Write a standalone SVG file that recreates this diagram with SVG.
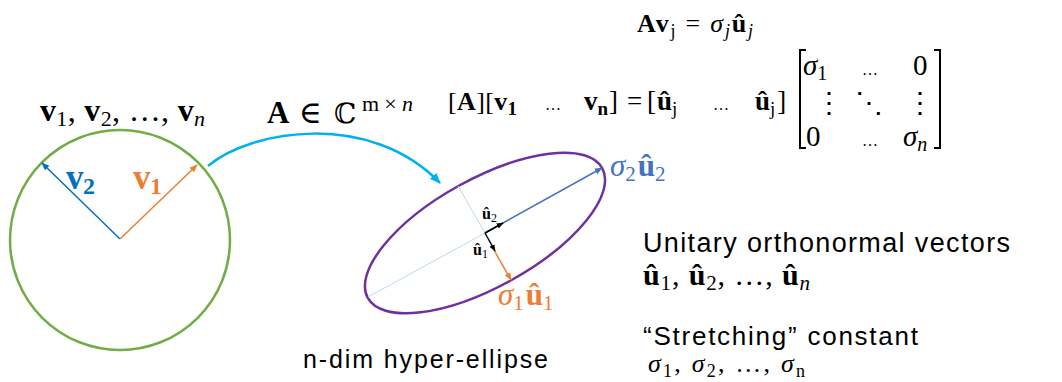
<svg xmlns="http://www.w3.org/2000/svg" width="1062" height="382" viewBox="0 0 1062 382">
<defs>
<style>
.m{font-family:"Liberation Serif","DejaVu Serif",serif;fill:#000}
.b{font-weight:bold}
.i{font-style:italic}
.s{font-family:"Liberation Sans",Arial,sans-serif;fill:#000}
.vec{fill:none;stroke-width:1.5}
</style>
<marker id="hBlue" viewBox="0 0 10 10" refX="9" refY="5" markerWidth="8" markerHeight="8" orient="auto" markerUnits="userSpaceOnUse"><path d="M0,1 L10,5 L0,9 z" fill="#0070C0"/></marker>
<marker id="hOrange" viewBox="0 0 10 10" refX="9" refY="5" markerWidth="8" markerHeight="8" orient="auto" markerUnits="userSpaceOnUse"><path d="M0,1 L10,5 L0,9 z" fill="#ED7D31"/></marker>
<marker id="hBlue2" viewBox="0 0 10 10" refX="9" refY="5" markerWidth="8" markerHeight="8" orient="auto" markerUnits="userSpaceOnUse"><path d="M0,1 L10,5 L0,9 z" fill="#4472C4"/></marker>
<marker id="hBlack" viewBox="0 0 10 10" refX="9" refY="5" markerWidth="7" markerHeight="7" orient="auto" markerUnits="userSpaceOnUse"><path d="M0,1 L10,5 L0,9 z" fill="#000"/></marker>
<marker id="hCyan" viewBox="0 0 10 10" refX="9" refY="5" markerWidth="11" markerHeight="11" orient="auto" markerUnits="userSpaceOnUse"><path d="M0,1 L10,5 L0,9 z" fill="#00B0F0"/></marker>
</defs>
<rect width="1062" height="382" fill="#fff"/>

<g id="circle-node">
<circle cx="120" cy="240" r="110" fill="none" stroke="#70AD47" stroke-width="2.5"/>
<line class="vec" x1="120" y1="239" x2="42" y2="163" stroke="#0070C0" marker-end="url(#hBlue)"/>
<line class="vec" x1="120" y1="239" x2="197" y2="165" stroke="#ED7D31" marker-end="url(#hOrange)"/>
<text class="m b" x="66" y="189" font-size="35" textLength="29" style="fill:#0070C0">v<tspan font-size="24" dy="5">2</tspan></text>
<text class="m b" x="133" y="189" font-size="35" textLength="29" style="fill:#ED7D31">v<tspan font-size="24" dy="5">1</tspan></text>
<text class="m" x="40" y="121" font-size="32" textLength="165"><tspan class="b">v</tspan><tspan font-size="22" dy="5">1</tspan><tspan dy="-5">, </tspan><tspan class="b">v</tspan><tspan font-size="22" dy="5">2</tspan><tspan dy="-5">, …, </tspan><tspan class="b">v</tspan><tspan class="i" font-size="22" dy="5">n</tspan></text>
</g>

<g id="connectors">
<path d="M208,166 C250,130 370,110 440,183" fill="none" stroke="#00B0F0" stroke-width="2.5" marker-end="url(#hCyan)"/>
</g>
<g id="map-label">
<text class="m" x="267" y="123" font-size="31"><tspan class="b">A</tspan><tspan x="299">∈</tspan></text>
<text class="m" x="334" y="123" font-size="28">ℂ</text>
<text class="m" x="362" y="111" font-size="22" textLength="51">m×<tspan class="i">n</tspan></text>
</g>

<g id="ellipse-node">
<ellipse cx="485" cy="233" rx="134" ry="54" transform="rotate(-29 485 233)" fill="none" stroke="#7030A0" stroke-width="2.5"/>
<line x1="485" y1="233" x2="368" y2="297" stroke="#BDD7EE" stroke-width="1"/>
<line x1="485" y1="233" x2="458" y2="186" stroke="#BDD7EE" stroke-width="1"/>
<line class="vec" x1="485" y1="233" x2="602" y2="168" stroke="#4472C4" marker-end="url(#hBlue2)"/>
<line class="vec" x1="494" y1="250" x2="511" y2="280" stroke="#ED7D31" marker-end="url(#hOrange)"/>
<line class="vec" x1="485" y1="233" x2="503" y2="223" stroke="#000" marker-end="url(#hBlack)"/>
<line class="vec" x1="485" y1="233" x2="495" y2="251" stroke="#000" marker-end="url(#hBlack)"/>
<text class="m b" x="482" y="219" font-size="16">û<tspan font-size="12" dy="3" font-weight="normal">2</tspan></text>
<text class="m b" x="473" y="255" font-size="16">û<tspan font-size="12" dy="3" font-weight="normal">1</tspan></text>
<text class="m" x="610" y="176" font-size="31" style="fill:#4472C4"><tspan class="i">σ</tspan><tspan font-size="21" dy="5">2</tspan><tspan class="b" dy="-5" dx="2">û</tspan><tspan font-size="21" dy="5">2</tspan></text>
<text class="m" x="498" y="305" font-size="31" style="fill:#ED7D31"><tspan class="i">σ</tspan><tspan font-size="21" dy="5">1</tspan><tspan class="b" dy="-5" dx="2">û</tspan><tspan font-size="21" dy="5">1</tspan></text>
<text class="s" x="303" y="368" font-size="25" textLength="245">n-dim hyper-ellipse</text>
</g>

<g id="equations">
<text class="m" x="637" y="32" font-size="26" textLength="116"><tspan class="b">Av</tspan><tspan font-size="18" dy="5">j</tspan><tspan dy="-5"> = </tspan><tspan class="i">σ</tspan><tspan class="i" font-size="18" dy="5">j</tspan><tspan class="b" dy="-5">û</tspan><tspan class="i" font-size="18" dy="5">j</tspan></text>
<text class="m" x="448" y="110" font-size="26" textLength="69">[<tspan class="b">A</tspan>][<tspan class="b">v</tspan><tspan class="b" font-size="19" dy="5">1</tspan></text>
<text class="m" x="545" y="110" font-size="16">…</text>
<text class="m" x="584" y="110" font-size="27"><tspan class="b">v</tspan><tspan class="b" font-size="19" dy="5">n</tspan><tspan dy="-5" dx="1">]</tspan></text>
<text class="m" x="627" y="110" font-size="27">=</text>
<text class="m" x="647" y="110" font-size="27">[<tspan class="b" dx="1">û</tspan><tspan font-size="19" dy="5">j</tspan></text>
<text class="m" x="713" y="110" font-size="16">…</text>
<text class="m" x="755" y="110" font-size="27"><tspan class="b">û</tspan><tspan font-size="19" dy="5">j</tspan><tspan dy="-5" dx="2">]</tspan></text>
<path d="M806,50 H800 V148 H806 M934,50 H940 V148 H934" fill="none" stroke="#000" stroke-width="2"/>
<text class="m i" x="803" y="75" font-size="29">σ<tspan font-size="20" dy="5" font-style="normal">1</tspan></text>
<text class="m" x="862" y="75" font-size="16">…</text>
<text class="m" x="913" y="75" font-size="29">0</text>
<text class="m" x="815" y="112" font-size="28">⋮</text>
<text class="m" x="855" y="112" font-size="28">⋱</text>
<text class="m" x="906" y="112" font-size="28">⋮</text>
<text class="m" x="806" y="146" font-size="29">0</text>
<text class="m" x="862" y="146" font-size="16">…</text>
<text class="m i" x="903" y="146" font-size="29">σ<tspan font-size="20" dy="5">n</tspan></text>
</g>

<g id="notes">
<text class="s" x="643" y="252" font-size="27" textLength="367">Unitary orthonormal vectors</text>
<text class="m" x="643" y="285" font-size="30" textLength="167"><tspan class="b">û</tspan><tspan font-size="21" dy="5">1</tspan><tspan dy="-5">, </tspan><tspan class="b">û</tspan><tspan font-size="21" dy="5">2</tspan><tspan dy="-5">, …, </tspan><tspan class="b">û</tspan><tspan class="i" font-size="21" dy="5">n</tspan></text>
<text class="s" x="643" y="345" font-size="26" textLength="275">“Stretching” constant</text>
<text class="m" x="648" y="372" font-size="26" textLength="157"><tspan class="i">σ</tspan><tspan font-size="18" dy="5">1</tspan><tspan dy="-5">, </tspan><tspan class="i">σ</tspan><tspan font-size="18" dy="5">2</tspan><tspan dy="-5">, …, </tspan><tspan class="i">σ</tspan><tspan font-size="18" dy="5">n</tspan></text>
</g>
</svg>
